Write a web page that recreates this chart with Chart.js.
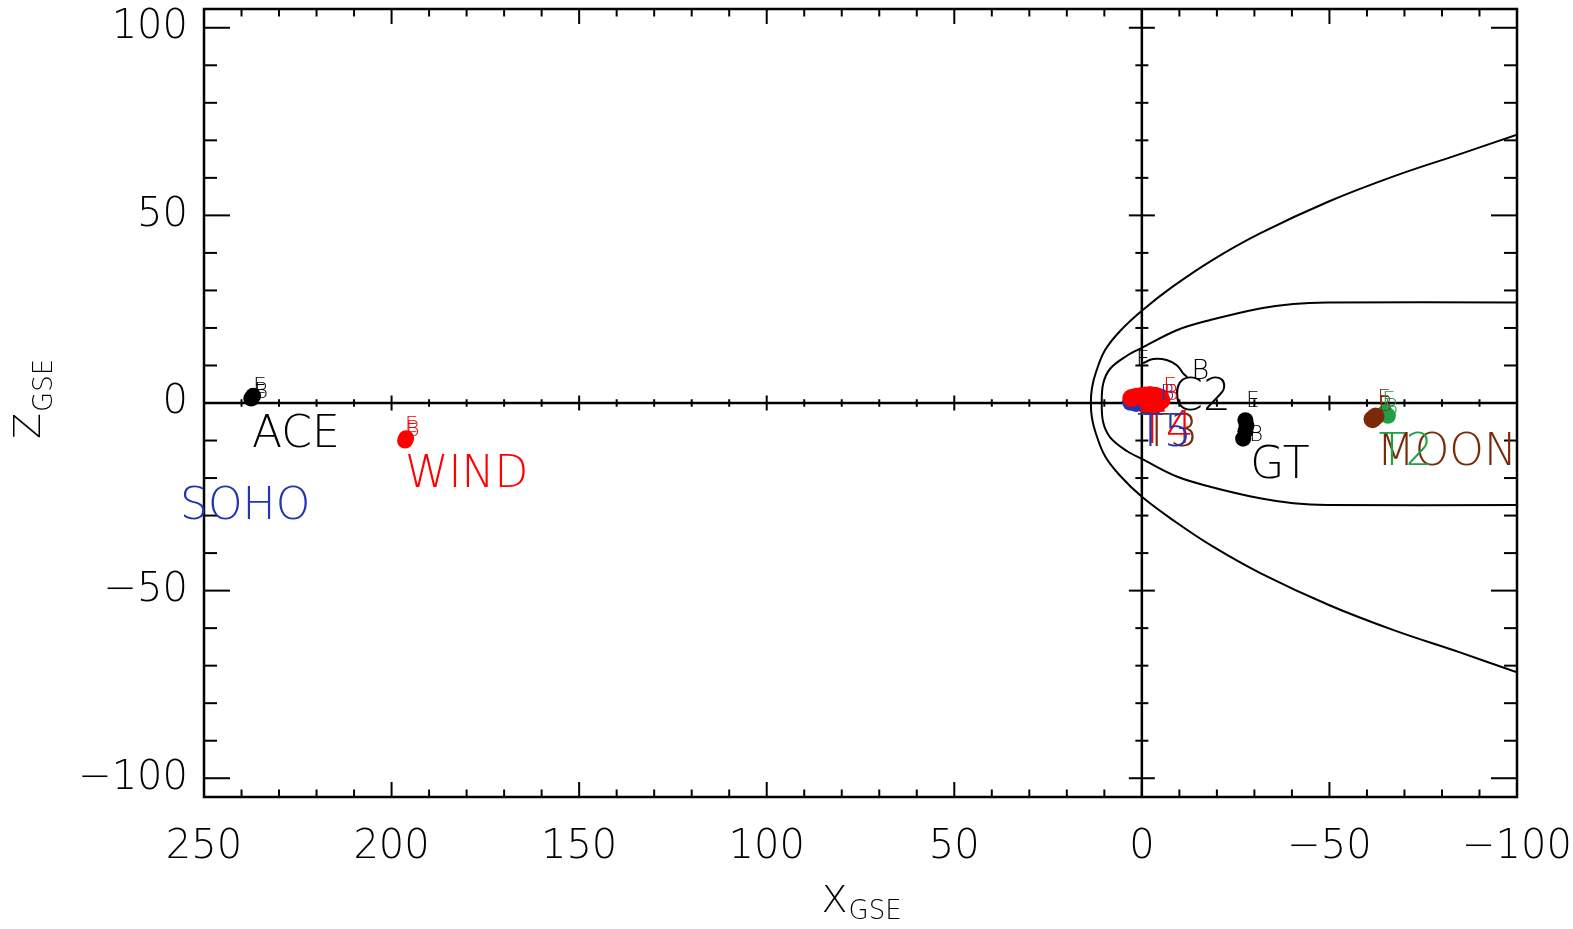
<!DOCTYPE html>
<html><head><meta charset="utf-8">
<script src="https://cdn.jsdelivr.net/npm/chart.js@4.4.1/dist/chart.umd.min.js"></script>
<style>html,body{margin:0;padding:0;background:#fff}#wrap{width:1573px;height:929px;position:relative}</style>
</head><body><div id="wrap"><canvas id="c"></canvas></div>
<script>
// ---- axis ticks ----
const xTickValues = [250, 200, 150, 100, 50, 0, -50, -100];
const yTickValues = [-100, -50, 0, 50, 100];

// ---- model boundaries ----
const bowShockX = [-100, -84.6, -67.3, -50.0, -31.7, -19.0, -8.3, 0, 5.6, 9.8, 12.3, 13.3, 13.6, 13.3, 12.3, 9.8, 5.6, 0, -8.2, -18.8, -31.5, -49.8, -67.1, -84.4, -100];
const bowShockZ = [-71.8, -66.4, -60.6, -53.9, -45.4, -38.3, -31.2, -25.0, -19.6, -14.2, -8.0, -4.0, 0, 4.0, 8.0, 14.1, 19.4, 24.6, 31.0, 38.1, 45.2, 53.7, 60.4, 66.2, 71.5];
const magnetopauseX = [-100, -49.3, -40.4, -31.5, -18.2, -9.3, 0, 4.0, 8.4, 10.3, 10.7, 10.3, 8.4, 4.0, 0, -9.3, -18.2, -31.5, -40.4, -49.3, -100];
const magnetopauseZ = [-27.2, -27.2, -26.7, -25.4, -22.3, -19.6, -14.9, -12.8, -9.2, -5.2, 0, 5.2, 9.2, 12.6, 14.7, 19.4, 22.1, 25.2, 26.4, 26.8, 26.8];

// ---- spacecraft positions (X_GSE, Z_GSE in Re) ----
const aceX = [237.4, 236.9];
const aceZ = [1.2, 1.9];
const windX = [196.4, 196.1];
const windZ = [-10.0, -9.4];
const c2X = [-0.35, -3.0, -6.8, -9.4, -11.0, -12.1];
const c2Z = [10.6, 11.7, 11.4, 10.0, 7.9, 6.9];
const t4X = [2.8, 1.8, 0.5, -0.8, -2.2, -3.6, -4.9, -5.2, -4.4, -3.0, -1.7];
const t4Z = [1.3, 1.6, 1.8, 2.0, 2.1, 1.9, 1.5, 0.7, 0.0, -0.3, 0.0];
const t5X = [2.9, 1.5];
const t5Z = [0.3, 0.0];
const t3X = [-1.2, -3.5];
const t3Z = [-0.6, -0.6];
const gtX = [-27.6, -27.9, -27.6, -27.0];
const gtZ = [-4.6, -6.0, -7.5, -9.5];
const moonX = [-61.5, -62.3];
const moonZ = [-4.3, -3.6];
const artemisX = [-64.8, -65.6];
const artemisZ = [-2.6, -3.4];

const BLACK = '#000000', RED = '#ff0000', BLUE = '#2236b4', BROWN = '#7a2a08', GREEN = '#20a048';
const FONT = '"DejaVu Sans", "Liberation Sans", sans-serif';

// text annotations: text, anchor in data units (left, baseline), colour, size
const labelTexts = ['SOHO','ACE','WIND','C2','GT','T3','T4','T5','MOON','T2',
  'E','B','E','B','E','B','E','B','B','E','B','E','B','E','B'];
const labelX = [256.4, 237.2, 196.4, -8.1, -28.9, -0.4, 0.8, 1.3, -62.6, -63.1,
  236.9, 236.6, 196.4, 196.2, 1.5, -13.2, -5.7, -4.9, -5.9, -27.8, -28.6, -62.8, -63.0, -64.1, -64.6];
const labelZ = [-30.8, -11.8, -22.5, -1.9, -20.1, -11.4, -10.7, -11.5, -16.6, -16.6,
  2.6, 1.3, -7.6, -8.9, 9.8, 6.3, 2.6, 0.7, 0.7, -1.1, -10.0, -0.6, -2.2, -1.1, -2.8];
const labelColor = [BLUE, BLACK, RED, BLACK, BLACK, BROWN, RED, BLUE, BROWN, GREEN,
  BLACK, BLACK, RED, RED, BLACK, BLACK, RED, BLUE, RED, BLACK, BLACK, BROWN, BROWN, GREEN, GREEN];
const labelSize = [44,44,44,44,44,44,44,44,44,44, 21,21,21,21,21,27,22,22,22,21,21,21,21,21,21];

function pts(xs, zs) { return xs.map((v, i) => ({x: v, y: zs[i]})); }
function dots(label, xs, zs, color, r) {
  return {label, data: pts(xs, zs), showLine: false, pointRadius: r, pointHoverRadius: r,
    backgroundColor: color, borderColor: color, pointBorderWidth: 0};
}
function curve(label, xs, zs, tension) {
  return {label, data: pts(xs, zs), showLine: true, pointRadius: 0, borderColor: BLACK,
    borderWidth: 2, tension: tension, fill: false};
}

const framePlugin = {
  id: 'frame',
  beforeDatasetsDraw(chart) {
    const {ctx, chartArea: a, scales: {x, y}} = chart;
    ctx.save();
    ctx.strokeStyle = '#000'; ctx.lineCap = 'butt';
    const line = (x1, y1, x2, y2) => { ctx.beginPath(); ctx.moveTo(x1, y1); ctx.lineTo(x2, y2); ctx.stroke(); };
    const x0 = x.getPixelForValue(0), y0 = y.getPixelForValue(0);
    ctx.lineWidth = 2.5;
    line(x0, a.top, x0, a.bottom);
    line(a.left, y0, a.right, y0);
    ctx.lineWidth = 2;
    for (let v = -100; v <= 250; v += 10) {
      const p = x.getPixelForValue(v);
      const len = (v % 50 === 0) ? 15 : 7.5;
      line(p, a.bottom, p, a.bottom - len);
      line(p, a.top, p, a.top + len);
      line(p, y0 - len / 2, p, y0 + len / 2);
    }
    for (let v = -100; v <= 100; v += 10) {
      const p = y.getPixelForValue(v);
      const len = (v % 50 === 0) ? 26 : 13;
      line(a.left, p, a.left + len, p);
      line(a.right, p, a.right - len, p);
      line(x0 - len / 2, p, x0 + len / 2, p);
    }
    ctx.lineWidth = 2.5;
    ctx.strokeRect(a.left, a.top, a.right - a.left, a.bottom - a.top);
    ctx.restore();
  },
  afterDatasetsDraw(chart) {
    const {ctx, chartArea: a, scales: {x, y}} = chart;
    ctx.save();
    ctx.textAlign = 'left'; ctx.textBaseline = 'alphabetic';
    for (let i = 0; i < labelTexts.length; i++) {
      ctx.font = '200 ' + labelSize[i] + 'px ' + FONT;
      ctx.fillStyle = labelColor[i];
      ctx.fillText(labelTexts[i], x.getPixelForValue(labelX[i]), y.getPixelForValue(labelZ[i]));
    }
    // axis titles
    ctx.fillStyle = '#000';
    const cx = (a.left + a.right) / 2;
    ctx.font = '200 38px ' + FONT;
    const xw = ctx.measureText('X').width;
    ctx.fillText('X', cx - 39, a.bottom + 115);
    ctx.font = '200 26px ' + FONT;
    ctx.fillText('GSE', cx - 39 + xw + 1, a.bottom + 122);
    const cy = (a.top + a.bottom) / 2;
    ctx.translate(a.left - 164, cy + 36);
    ctx.rotate(-Math.PI / 2);
    ctx.font = '200 38px ' + FONT;
    const zw = ctx.measureText('Z').width;
    ctx.fillText('Z', 0, 0);
    ctx.font = '200 26px ' + FONT;
    ctx.fillText('GSE', zw + 1, 12);
    ctx.restore();
  }
};

const tickFont = {family: FONT, size: 40, weight: '200'};
new Chart(document.getElementById('c'), {
  type: 'scatter',
  data: {
    datasets: [
      dots('T4', t4X, t4Z, RED, 9),
      dots('T5', t5X, t5Z, BLUE, 9),
      dots('T3', t3X, t3Z, BROWN, 9),
      dots('GT', gtX, gtZ, BLACK, 8),
      dots('MOON', moonX, moonZ, BROWN, 9),
      dots('T2', artemisX, artemisZ, GREEN, 8),
      dots('WIND', windX, windZ, RED, 8),
      dots('ACE', aceX, aceZ, BLACK, 8),
      curve('C2', c2X, c2Z, 0.4),
      curve('Magnetopause', magnetopauseX, magnetopauseZ, 0.35),
      curve('Bow shock', bowShockX, bowShockZ, 0.4)
    ]
  },
  options: {
    responsive: true, maintainAspectRatio: false, animation: false,
    devicePixelRatio: 1,
    layout: {padding: {left: 0, right: 56, top: 9, bottom: 0}},
    plugins: {legend: {display: false}, tooltip: {enabled: false}},
    scales: {
      x: {
        type: 'linear', min: -100, max: 250, reverse: true,
        grid: {display: false, drawTicks: false}, border: {display: false},
        afterBuildTicks: s => { s.ticks = xTickValues.map(v => ({value: v})); },
        afterFit: s => { s.height = 132; s.paddingLeft = 0; s.paddingRight = 0; s.paddingTop = 0; s.paddingBottom = 0; },
        ticks: {color: '#000', font: tickFont, padding: 27, maxRotation: 0, autoSkip: false,
          callback: v => (v < 0 ? '\u2212' + Math.abs(v) : String(v))}
      },
      y: {
        type: 'linear', min: -105, max: 105,
        grid: {display: false, drawTicks: false}, border: {display: false},
        afterBuildTicks: s => { s.ticks = yTickValues.map(v => ({value: v})); },
        afterFit: s => { s.width = 204; s.paddingLeft = 0; s.paddingRight = 0; s.paddingTop = 0; s.paddingBottom = 0; },
        ticks: {color: '#000', font: tickFont, padding: 16,
          callback: v => (v < 0 ? '\u2212' + Math.abs(v) : String(v))}
      }
    }
  },
  plugins: [framePlugin]
});
</script></body></html>
